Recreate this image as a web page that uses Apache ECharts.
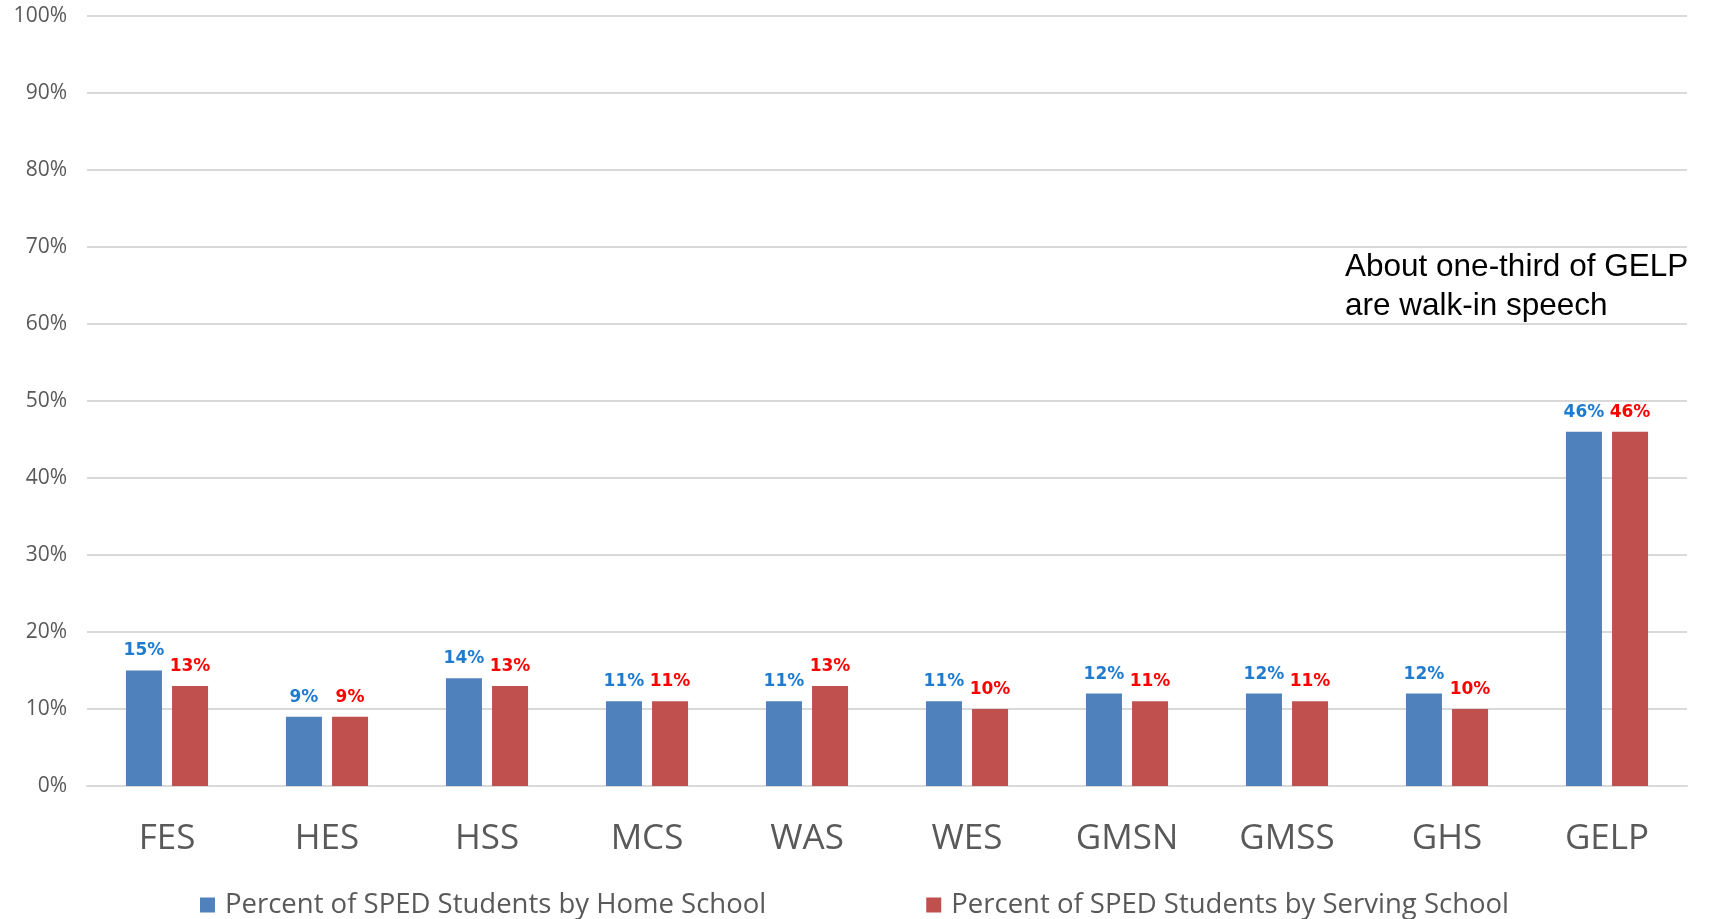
<!doctype html>
<html>
<head>
<meta charset="UTF-8">
<title>SPED Students by School</title>
<style>
  html, body { margin: 0; padding: 0; background: #fff; }
  #main { width: 1709px; height: 919px; }
</style>
<script src="https://cdn.jsdelivr.net/npm/echarts@6/dist/echarts.min.js"></script>
</head>
<body>
<div id="main"></div>
<script>
// data
var schools = ['FES', 'HES', 'HSS', 'MCS', 'WAS', 'WES', 'GMSN', 'GMSS', 'GHS', 'GELP'];
var homeSchool = [15, 9, 14, 11, 11, 11, 12, 12, 12, 46];
var servingSchool = [13, 9, 13, 11, 13, 10, 11, 11, 10, 46];
var seriesNames = ['Percent of SPED Students by Home School', 'Percent of SPED Students by Serving School'];
var note = 'About one-third of GELP\nare walk-in speech';

var myChart = echarts.init(document.getElementById('main'));

function lbl(color) {
    return {
        show: true,
        position: 'top',
        distance: 11,
        formatter: '{c}%',
        color: color,
        fontWeight: 'bold',
        fontSize: 17,
        fontFamily: 'Verdana, "DejaVu Sans", sans-serif'
    };
}

var option = {
    backgroundColor: '#fff',
    animation: false,
    grid: { left: 87, right: 22, top: 16, bottom: 133 },
    graphic: [{
        type: 'text',
        left: 1345,
        top: 248,
        style: {
            text: note,
            font: '31.5px "Liberation Sans", Arial, sans-serif',
            fill: '#000',
            lineHeight: 39
        }
    }],
    legend: {
        data: seriesNames,
        bottom: -5,
        left: 'center',
        itemWidth: 15,
        itemHeight: 15,
        itemGap: 160,
        icon: 'rect',
        textStyle: { color: '#595959', fontSize: 27.5, padding: [0, 0, 0, 5], fontFamily: '"Open Sans", sans-serif' }
    },
    xAxis: {
        type: 'category',
        data: schools,
        axisLine: { show: true, lineStyle: { color: '#D9D9D9', width: 2 } },
        axisTick: { show: false },
        axisLabel: { color: '#595959', fontSize: 35, margin: 36, fontFamily: '"Open Sans", sans-serif' }
    },
    yAxis: {
        type: 'value',
        min: 0,
        max: 100,
        interval: 10,
        axisLine: { show: false },
        axisTick: { show: false },
        axisLabel: { formatter: '{value}%', color: '#595959', fontSize: 21, margin: 20, fontFamily: '"Open Sans", sans-serif' },
        splitLine: { lineStyle: { color: '#D9D9D9', width: 2 } }
    },
    series: [
        {
            name: seriesNames[0],
            type: 'bar',
            data: homeSchool,
            barWidth: 36,
            barGap: '28%',
            itemStyle: { color: '#4F81BD' },
            label: lbl('#1F7BD0')
        },
        {
            name: seriesNames[1],
            type: 'bar',
            data: servingSchool,
            barWidth: 36,
            itemStyle: { color: '#C0504D' },
            label: lbl('#FF0000')
        }
    ]
};

myChart.setOption(option);
</script>
</body>
</html>
